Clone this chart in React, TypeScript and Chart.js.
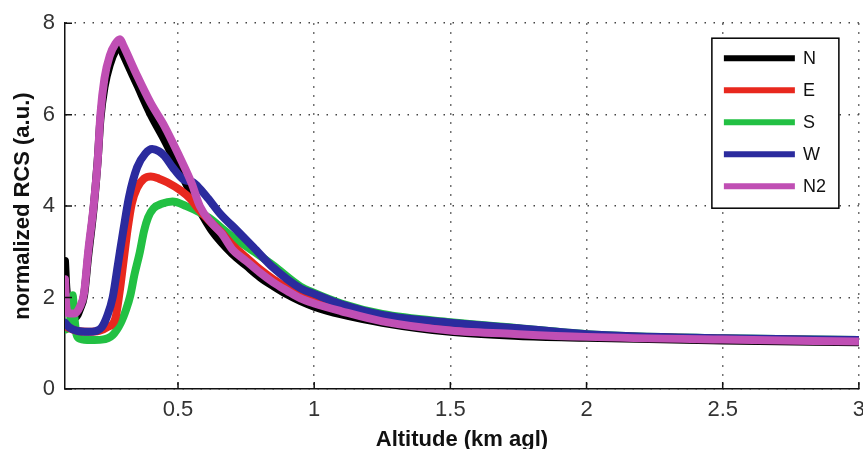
import React, { useEffect, useRef } from "react";
import { Chart, registerables } from "chart.js";

Chart.register(...registerables);

// ---- data ----
const seriesLabels = ["N", "E", "S", "W", "N2"];
const seriesColors = ["#000000", "#e8281e", "#22c043", "#2b2b9e", "#c04fb4"];

const altN = [0.085, 0.09, 0.1, 0.115, 0.125, 0.14, 0.155, 0.17, 0.19, 0.205, 0.215, 0.23, 0.25, 0.27, 0.285, 0.3, 0.35, 0.4, 0.45, 0.5, 0.55, 0.58, 0.62, 0.66, 0.7, 0.75, 0.8, 0.85, 0.9, 0.95, 1.0, 1.1, 1.25, 1.5, 1.75, 2.0, 2.5, 3.0];
const rcsN = [2.8, 2.2, 1.75, 1.58, 1.58, 1.75, 2.05, 2.9, 3.95, 5.0, 5.9, 6.6, 7.1, 7.4, 7.5, 7.3, 6.65, 6.0, 5.45, 4.85, 4.25, 3.9, 3.5, 3.2, 2.95, 2.7, 2.45, 2.25, 2.07, 1.92, 1.8, 1.63, 1.45, 1.25, 1.16, 1.12, 1.06, 1.02];

const altE = [0.085, 0.1, 0.13, 0.17, 0.21, 0.24, 0.27, 0.285, 0.3, 0.315, 0.33, 0.35, 0.375, 0.4, 0.43, 0.46, 0.51, 0.545, 0.58, 0.62, 0.66, 0.7, 0.75, 0.8, 0.85, 0.9, 0.95, 1.0, 1.1, 1.25, 1.5, 1.75, 2.0, 2.5, 3.0];
const rcsE = [1.38, 1.33, 1.27, 1.25, 1.27, 1.35, 1.55, 2.1, 2.8, 3.5, 4.05, 4.4, 4.6, 4.65, 4.6, 4.52, 4.34, 4.16, 3.9, 3.65, 3.42, 3.15, 2.88, 2.62, 2.4, 2.22, 2.06, 1.95, 1.75, 1.55, 1.36, 1.24, 1.17, 1.1, 1.06];

const altS = [0.085, 0.1, 0.107, 0.113, 0.119, 0.127, 0.14, 0.18, 0.22, 0.26, 0.29, 0.31, 0.325, 0.34, 0.36, 0.375, 0.39, 0.41, 0.44, 0.48, 0.53, 0.58, 0.62, 0.66, 0.7, 0.78, 0.85, 0.95, 1.0, 1.1, 1.25, 1.5, 1.75, 2.0, 2.5, 3.0];
const rcsS = [1.3, 1.35, 1.7, 2.05, 1.6, 1.2, 1.1, 1.07, 1.08, 1.18, 1.45, 1.75, 2.05, 2.5, 3.0, 3.45, 3.75, 3.95, 4.05, 4.1, 4.0, 3.86, 3.72, 3.52, 3.33, 3.0, 2.7, 2.24, 2.1, 1.87, 1.64, 1.46, 1.33, 1.2, 1.11, 1.07];

const altW = [0.085, 0.1, 0.13, 0.17, 0.2, 0.22, 0.24, 0.26, 0.28, 0.3, 0.32, 0.35, 0.38, 0.405, 0.43, 0.45, 0.48, 0.52, 0.555, 0.58, 0.61, 0.655, 0.716, 0.777, 0.85, 0.95, 1.0, 1.1, 1.25, 1.5, 1.75, 2.0, 2.5, 3.0];
const rcsW = [1.45, 1.35, 1.27, 1.25, 1.27, 1.35, 1.6, 2.0, 2.75, 3.5, 4.2, 4.85, 5.15, 5.25, 5.2, 5.1, 4.85, 4.58, 4.52, 4.38, 4.17, 3.83, 3.47, 3.1, 2.65, 2.2, 2.08, 1.85, 1.62, 1.45, 1.33, 1.2, 1.11, 1.07];

const altN2 = [0.085, 0.09, 0.1, 0.12, 0.14, 0.155, 0.17, 0.19, 0.205, 0.215, 0.23, 0.25, 0.27, 0.287, 0.3, 0.35, 0.4, 0.45, 0.5, 0.55, 0.58, 0.62, 0.66, 0.7, 0.75, 0.8, 0.85, 0.9, 0.95, 1.0, 1.1, 1.25, 1.5, 1.75, 2.0, 2.5, 3.0];
const rcsN2 = [2.4, 1.8, 1.65, 1.65, 1.8, 2.1, 3.0, 4.0, 5.0, 6.0, 6.8, 7.3, 7.55, 7.65, 7.5, 6.85, 6.25, 5.75, 5.15, 4.5, 4.0, 3.65, 3.4, 3.05, 2.8, 2.55, 2.33, 2.15, 1.98, 1.87, 1.7, 1.48, 1.28, 1.2, 1.14, 1.08, 1.04];

const seriesAlt = [altN, altE, altS, altW, altN2];
const seriesRcs = [rcsN, rcsE, rcsS, rcsW, rcsN2];
const drawOrder = [4, 2, 3, 1, 0];

const xTicks = [0.5, 1, 1.5, 2, 2.5, 3];
const xMin = 0.085;
const xMax = 3;
const yMin = 0;
const yMax = 8;
const yStep = 2;

const xTitle = "Altitude (km agl)";
const yTitle = "normalized RCS (a.u.)";

const FONT = '"Liberation Sans", Arial, Helvetica, sans-serif';

const decorPlugin = {
  id: "decor",
  afterDraw(chart: any) {
    const { ctx, chartArea } = chart;
    const xs = chart.scales.x;
    const ys = chart.scales.y;
    ctx.save();
    // inward tick marks
    ctx.strokeStyle = "#111";
    ctx.lineWidth = 1.5;
    ctx.beginPath();
    xs.ticks.forEach((t: any) => {
      const px = xs.getPixelForValue(t.value);
      ctx.moveTo(px, chartArea.bottom);
      ctx.lineTo(px, chartArea.bottom - 7);
    });
    ys.ticks.forEach((t: any) => {
      const py = ys.getPixelForValue(t.value);
      ctx.moveTo(chartArea.left, py);
      ctx.lineTo(chartArea.left + 7, py);
    });
    ctx.stroke();

    // boxed legend
    const ds = chart.data.datasets;
    const w = 127;
    const rowH = 32;
    const h = 170;
    const x0 = chartArea.right - 20 - w;
    const y0 = chartArea.top + 15;
    ctx.fillStyle = "#ffffff";
    ctx.fillRect(x0, y0, w, h);
    ctx.strokeStyle = "#000";
    ctx.lineWidth = 1.5;
    ctx.strokeRect(x0, y0, w, h);
    ds.forEach((d: any, i: number) => {
      const y = y0 + 20 + i * rowH;
      ctx.strokeStyle = d.borderColor;
      ctx.lineWidth = 6;
      ctx.lineCap = "butt";
      ctx.beginPath();
      ctx.moveTo(x0 + 12, y);
      ctx.lineTo(x0 + 83, y);
      ctx.stroke();
      ctx.fillStyle = "#111";
      ctx.font = `18px ${FONT}`;
      ctx.textBaseline = "middle";
      ctx.textAlign = "left";
      ctx.fillText(d.label, x0 + 91, y + 1);
    });
    ctx.restore();
  },
};

export default function App() {
  const canvasRef = useRef<HTMLCanvasElement | null>(null);

  useEffect(() => {
    const canvas = canvasRef.current;
    if (!canvas) return;
    const datasets = seriesLabels.map((label, i) => ({
      label,
      data: seriesAlt[i].map((x, j) => ({ x, y: seriesRcs[i][j] })),
      borderColor: seriesColors[i],
      backgroundColor: seriesColors[i],
      borderWidth: 8,
      pointRadius: 0,
      cubicInterpolationMode: "monotone" as const,
      borderCapStyle: "round" as const,
      borderJoinStyle: "round" as const,
      order: drawOrder[i],
      fill: false,
    }));

    const chart = new Chart(canvas, {
      type: "line",
      data: { datasets },
      options: {
        animation: false,
        responsive: false,
        devicePixelRatio: 1,
        layout: { padding: { left: 0, top: 22, right: 10, bottom: 0 } },
        plugins: {
          legend: { display: false },
          tooltip: { enabled: false },
        },
        scales: {
          x: {
            type: "linear",
            min: xMin,
            max: xMax,
            afterBuildTicks: (scale: any) => {
              scale.ticks = xTicks.map((v) => ({ value: v }));
            },
            afterFit: (scale: any) => {
              scale.height = 69;
            },
            grid: {
              color: "#444",
              lineWidth: 1.5,
              drawTicks: false,
            },
            border: { display: true, color: "#111", width: 1.5, dash: [1.5, 7.5] },
            ticks: {
              color: "#333",
              padding: 8,
              font: { family: FONT, size: 22 },
              maxRotation: 0,
              callback: (v: any) => String(v),
            },
            title: {
              display: true,
              text: xTitle,
              color: "#111",
              font: { family: FONT, size: 22, weight: "bold" },
              padding: { top: 4, bottom: 5 },
            },
          },
          y: {
            type: "linear",
            min: yMin,
            max: yMax,
            afterFit: (scale: any) => {
              scale.width = 65;
            },
            grid: {
              color: "#444",
              lineWidth: 1.5,
              drawTicks: false,
            },
            border: { display: true, color: "#111", width: 1.5, dash: [1.5, 7.5] },
            ticks: {
              stepSize: yStep,
              color: "#333",
              padding: 10,
              font: { family: FONT, size: 22 },
            },
            title: {
              display: true,
              text: yTitle,
              color: "#111",
              font: { family: FONT, size: 22, weight: "bold" },
              padding: { top: 10, bottom: 4 },
            },
          },
        },
      },
      plugins: [decorPlugin],
    });
    return () => chart.destroy();
  }, []);

  return (
    <div
      style={{
        position: "fixed",
        left: 0,
        top: 0,
        width: 863,
        height: 449,
        overflow: "hidden",
        background: "#fff",
      }}
    >
      <canvas ref={canvasRef} width={873} height={458} style={{ display: "block" }} />
    </div>
  );
}
